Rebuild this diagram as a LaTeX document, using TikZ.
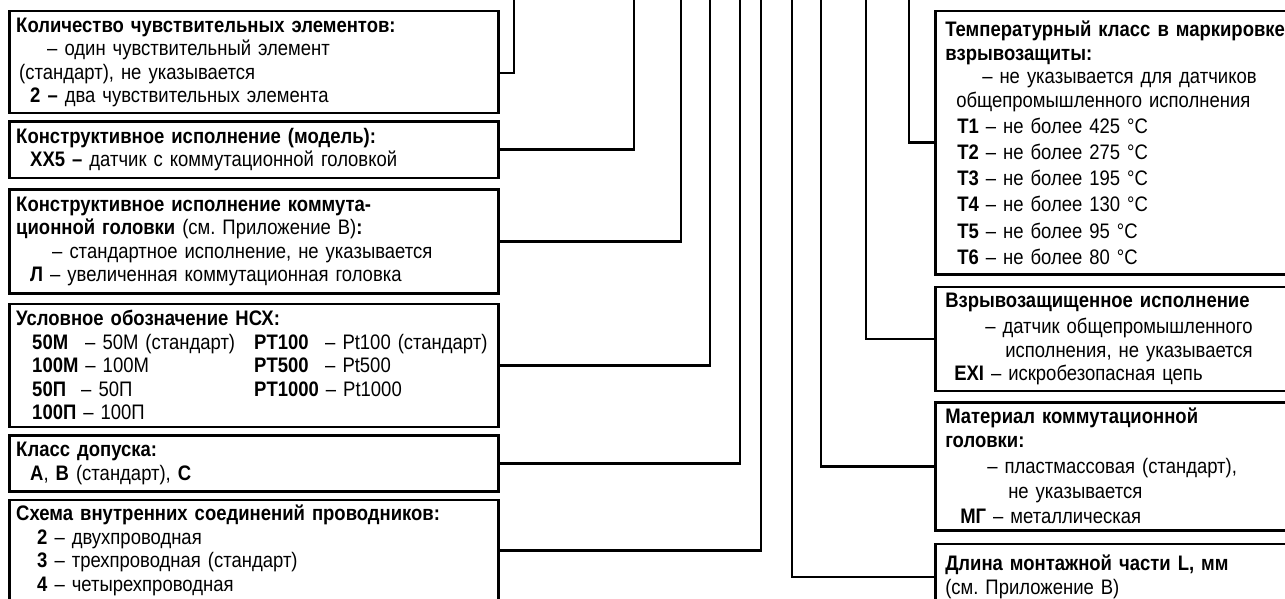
\documentclass[tikz,border=0pt]{standalone}
\usepackage{fontspec}
\setmainfont{Liberation Sans}[FakeStretch=0.88]
\usepackage{tikz}
\usetikzlibrary{positioning}
\frenchspacing

\begin{document}
\begin{tikzpicture}[x=1pt, y=-1pt]

    \tikzset{
        entry/.style={draw, line width=2.5pt, anchor=north west, align=left,
            inner xsep=7pt, inner ysep=0pt, text width=475pt,
            font=\fontsize{21}{23.5}\selectfont},
        entry-r/.style={entry, inner xsep=10pt, text width=350pt},
        link/.style={line width=2.5pt}
    }

    \path[use as bounding box, clip] (0,0) rectangle (1285,599);

    %
    % Left column
    %
    \node[entry, minimum height=102pt] (nch) at (8,10) {
        \textbf{Количество чувствительных элементов:}\\
        \hspace*{31pt}– один чувствительный элемент\\
        \hspace*{3pt}(стандарт), не указывается\\
        \hspace*{14pt}\textbf{2 –} два чувствительных элемента};

    \node[entry, minimum height=56pt] (model) [below=6pt of nch.south west, anchor=north west] {
        \textbf{Конструктивное исполнение (модель):}\\
        \hspace*{14pt}\textbf{XX5 –} датчик с коммутационной головкой};

    \node[entry, minimum height=104pt] (head) [below=9pt of model.south west, anchor=north west] {
        \textbf{Конструктивное исполнение коммута-}\\
        \textbf{ционной головки} (см. Приложение В)\textbf{:}\\
        \hspace*{36pt}– стандартное исполнение, не указывается\\
        \hspace*{14pt}\textbf{Л} – увеличенная коммутационная головка};

    \node[entry, minimum height=123pt] (nsh) [below=8pt of head.south west, anchor=north west] {
        \textbf{Условное обозначение НСХ:}\\
        \hspace*{16pt}\makebox[222pt][l]{\makebox[53pt][l]{\textbf{50М}}– 50М (стандарт)}\makebox[71pt][l]{\textbf{PT100}}– Pt100 (стандарт)\\
        \hspace*{16pt}\makebox[222pt][l]{\textbf{100М} – 100М}\makebox[71pt][l]{\textbf{PT500}}– Pt500\\
        \hspace*{16pt}\makebox[222pt][l]{\makebox[49pt][l]{\textbf{50П}}– 50П}\textbf{PT1000} – Pt1000\\
        \hspace*{16pt}\textbf{100П} – 100П};

    \node[entry, minimum height=56pt] (cls) [below=6pt of nsh.south west, anchor=north west] {
        \textbf{Класс допуска:}\\
        \hspace*{14pt}\textbf{A}, \textbf{B} (стандарт), \textbf{C}};

    \node[entry, minimum height=101pt] (wire) [below=6pt of cls.south west, anchor=north west] {
        \textbf{Схема внутренних соединений проводников:}\\
        \hspace*{21pt}\textbf{2} – двухпроводная\\
        \hspace*{21pt}\textbf{3} – трехпроводная (стандарт)\\
        \hspace*{21pt}\textbf{4} – четырехпроводная};

    %
    % Right column
    %
    \node[entry-r, minimum height=263pt] (tcls) at (934,10) {
        \textbf{Температурный класс в маркировке}\\
        \textbf{взрывозащиты:}\\
        \hspace*{37pt}– не указывается для датчиков\\
        \hspace*{11pt}общепромышленного исполнения\\[2.7pt]
        \hspace*{12pt}\textbf{T1} – не более 425 °C\\[2.7pt]
        \hspace*{12pt}\textbf{T2} – не более 275 °C\\[2.7pt]
        \hspace*{12pt}\textbf{T3} – не более 195 °C\\[2.7pt]
        \hspace*{12pt}\textbf{T4} – не более 130 °C\\[2.7pt]
        \hspace*{12pt}\textbf{T5} – не более 95 °C\\[2.7pt]
        \hspace*{12pt}\textbf{T6} – не более 80 °C};

    \node[entry-r, minimum height=104pt] (exd) [below=10pt of tcls.south west, anchor=north west] {
        \textbf{Взрывозащищенное исполнение}\\[3pt]
        \hspace*{40pt}– датчик общепромышленного\\
        \hspace*{60pt}исполнения, не указывается\\
        \hspace*{9pt}\textbf{EXI} – искробезопасная цепь};

    \node[entry-r, minimum height=128pt] (mat) [below=9pt of exd.south west, anchor=north west] {
        \textbf{Материал коммутационной}\\
        \textbf{головки:}\\[3pt]
        \hspace*{42pt}– пластмассовая (стандарт),\\[1.5pt]
        \hspace*{63pt}не указывается\\[1.5pt]
        \hspace*{15pt}\textbf{МГ} – металлическая};

    \node[entry-r, minimum height=66pt] (len) [below=11pt of mat.south west, anchor=north west] {
        \textbf{Длина монтажной части L, мм}\\
        (см. Приложение В)};

    %
    % Connectors
    %
    \coordinate (top-nch)   at (514,-5);
    \coordinate (top-model) at (634,-5);
    \coordinate (top-head)  at (681,-5);
    \coordinate (top-nsh)   at (710,-5);
    \coordinate (top-cls)   at (740,-5);
    \coordinate (top-wire)  at (761,-5);
    \coordinate (top-len)   at (792,-5);
    \coordinate (top-mat)   at (821,-5);
    \coordinate (top-exd)   at (866,-5);
    \coordinate (top-tcls)  at (909,-5);

    \draw[link] ([yshift=-11pt]nch.east) -| (top-nch);
    \draw[link] (model.east)             -| (top-model);
    \draw[link] (head.east)              -| (top-head);
    \draw[link] (nsh.east)               -| (top-nsh);
    \draw[link] (cls.east)               -| (top-cls);
    \draw[link] (wire.east)              -| (top-wire);
    \draw[link] (len.west)               -| (top-len);
    \draw[link] (mat.west)               -| (top-mat);
    \draw[link] (exd.west)               -| (top-exd);
    \draw[link] (tcls.west)              -| (top-tcls);
\end{tikzpicture}
\end{document}
